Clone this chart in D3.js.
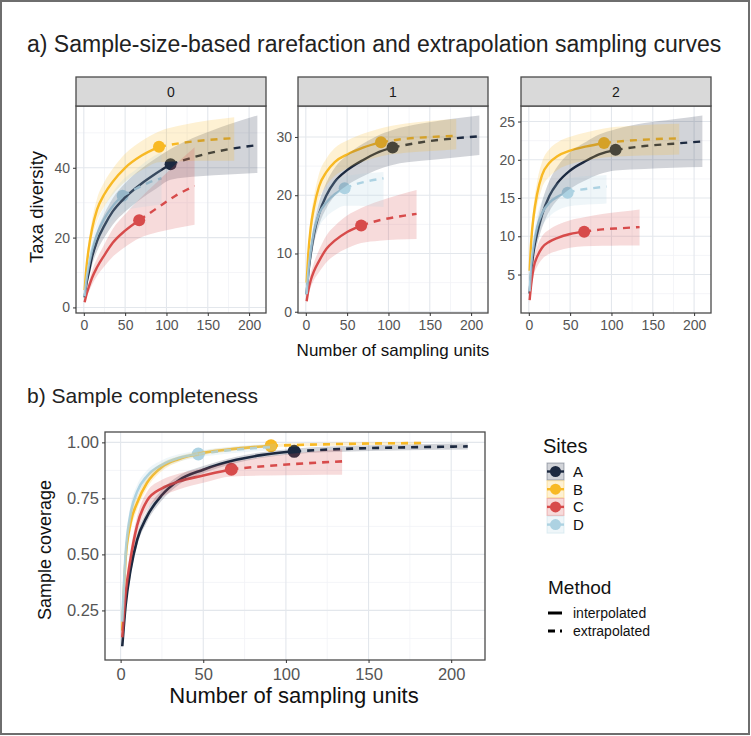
<!DOCTYPE html>
<html>
<head>
<meta charset="utf-8">
<script src="https://d3js.org/d3.v7.min.js"></script>
<style>
  body { margin: 0; background: #fff; }
  text { font-family: 'Liberation Sans', Arial, sans-serif; }
</style>
</head>
<body>
<script>
// ---- data ----
var sites = ["A", "B", "C", "D"];
var siteColors = ["#1c2a40", "#f8b925", "#d84c4b", "#add3e3"];
var sampleSize = [105, 91, 67, 47];   // observed sampling units per site
var orders = ["0", "1", "2"];

// sampling-unit knots for each site (interpolated up to n, extrapolated to 2n)
var xA = [1, 3, 6, 10, 16, 25, 35, 50, 70, 85, 105, 140, 175, 210];
var xB = [1, 3, 6, 10, 16, 25, 35, 50, 70, 91, 121, 152, 182];
var xC = [1, 3, 6, 10, 16, 25, 35, 50, 67, 89, 111, 134];
var xD = [1, 3, 6, 10, 16, 25, 35, 47, 63, 78, 94];

// q = 0
var q0 = {
  A: { est: [2.9, 6.5, 10, 14.5, 19, 23.5, 27.5, 31.5, 35.5, 38, 41, 43.5, 45.3, 46.5],
       lo:  [2.2, 5.1, 8.2, 12.1, 16.1, 20.1, 23.7, 27.4, 31.2, 33.6, 36.6, 37.6, 38.1, 38.5],
       hi:  [3.6, 7.9, 11.8, 16.9, 21.9, 26.9, 31.3, 35.6, 39.8, 42.4, 45.4, 49.3, 52.4, 55] },
  B: { est: [5, 11, 17, 22.5, 28, 32.5, 36, 40, 43.5, 46, 47.2, 48, 48.5],
       lo:  [4.2, 9.3, 14.8, 19.8, 24.8, 29, 32.3, 36, 39.3, 41.6, 41.9, 42, 42],
       hi:  [5.8, 12.7, 19.2, 25.2, 31.2, 36, 39.7, 44, 47.7, 50.4, 52.3, 53.6, 54.5] },
  C: { est: [1.5, 3.5, 5.8, 8.5, 11.5, 15, 18.5, 22, 25, 28.5, 32, 34.8],
       lo:  [1.1, 2.6, 4.4, 6.5, 9, 11.8, 14.5, 17.3, 19.8, 21.5, 22.7, 23.7],
       hi:  [1.9, 4.4, 7.2, 10.5, 14, 18.2, 22.5, 26.7, 31, 36, 41, 45.9] },
  D: { est: [3.2, 7.5, 12, 16.5, 21, 25.5, 29, 32, 34, 35.7, 37],
       lo:  [2.5, 6, 10, 14, 18, 22, 25, 27.5, 28.5, 29, 29.5],
       hi:  [3.9, 9, 14, 19, 24, 29, 33, 36.5, 39.5, 42.3, 44.5] }
};

// q = 1
var q1 = {
  A: { est: [3, 6.5, 10, 13.4, 16.8, 20, 22.3, 24.3, 26.1, 27.2, 28.2, 29.1, 29.7, 30.1],
       lo:  [2.5, 5.6, 8.7, 11.8, 14.9, 17.8, 19.9, 21.7, 23.3, 24.3, 25.2, 25.9, 26.4, 26.9],
       hi:  [3.5, 7.4, 11.3, 15, 18.7, 22.2, 24.7, 26.9, 28.9, 30.1, 31.2, 32.3, 33.1, 33.7] },
  B: { est: [5, 10, 14.5, 18, 21.5, 24, 25.7, 27, 28.2, 29.1, 29.7, 30, 30.2],
       lo:  [4.3, 8.8, 12.9, 16.1, 19.3, 21.7, 23.3, 24.6, 25.8, 26.7, 27.3, 27.6, 27.9],
       hi:  [5.7, 11.2, 16.1, 19.9, 23.7, 26.3, 28.1, 29.4, 30.6, 31.5, 32.3, 32.8, 33.1] },
  C: { est: [1.8, 3.6, 5.4, 7, 8.7, 10.8, 12.2, 13.7, 14.8, 15.7, 16.3, 16.8],
       lo:  [1.4, 2.8, 4.2, 5.5, 6.8, 8.5, 9.7, 10.9, 11.8, 12.2, 12.4, 12.5],
       hi:  [2.2, 4.4, 6.6, 8.5, 10.6, 13.1, 14.7, 16.5, 17.8, 19, 20, 20.9] },
  D: { est: [3, 6.8, 10.5, 14, 16.8, 18.8, 20.2, 21.2, 22, 22.5, 22.9],
       lo:  [2.5, 5.8, 9, 12, 14.5, 16.3, 17.4, 18.2, 18.2, 18.1, 18],
       hi:  [3.5, 7.8, 12, 16, 19.1, 21.3, 22.6, 23.2, 23.6, 23.8, 24] }
};

// q = 2
var q2 = {
  A: { est: [2.5, 5.5, 8.2, 10.3, 12.8, 15.3, 17, 18.6, 19.9, 20.7, 21.3, 21.8, 22.1, 22.4],
       lo:  [2.1, 4.7, 7.1, 8.9, 11.1, 13.3, 14.8, 16.2, 17.4, 18.1, 18.6, 18.8, 18.95, 19.05],
       hi:  [2.9, 6.3, 9.3, 11.7, 14.5, 17.3, 19.2, 21, 22.4, 23.3, 24, 24.8, 25.3, 25.8] },
  B: { est: [5.5, 9.5, 12.8, 15.5, 18, 19.6, 20.5, 21.2, 21.75, 22.2, 22.5, 22.7, 22.8],
       lo:  [4.8, 8.4, 11.4, 13.9, 16.3, 17.8, 18.7, 19.4, 19.9, 20.3, 20.5, 20.6, 20.7],
       hi:  [6.2, 10.6, 14.2, 17.1, 19.7, 21.4, 22.3, 23, 23.6, 24.1, 24.4, 24.6, 24.7] },
  C: { est: [1.65, 3.8, 6, 7.3, 8.5, 9.3, 9.8, 10.3, 10.6, 10.9, 11.05, 11.2],
       lo:  [1.2, 3, 4.9, 6, 7, 7.7, 8.1, 8.5, 8.7, 8.75, 8.8, 8.8],
       hi:  [2.1, 4.6, 7.1, 8.6, 10, 10.9, 11.5, 12.1, 12.5, 12.9, 13.2, 13.5] },
  D: { est: [2.8, 6.2, 9, 11.2, 13, 14.4, 15.2, 15.7, 16.1, 16.3, 16.5],
       lo:  [2.3, 5.3, 7.8, 9.7, 11.3, 12.6, 13.4, 13.9, 14.1, 14.2, 14.3],
       hi:  [3.3, 7.1, 10.2, 12.7, 14.7, 16.2, 17, 17.5, 17.8, 17.9, 18] }
};

// sample coverage
var coverage = {
  A: { est: [0.09, 0.27, 0.43, 0.565, 0.67, 0.765, 0.83, 0.878, 0.922, 0.943, 0.96, 0.972, 0.978, 0.982],
       lo:  [0.075, 0.24, 0.4, 0.54, 0.645, 0.742, 0.81, 0.862, 0.908, 0.93, 0.948, 0.959, 0.965, 0.968],
       hi:  [0.105, 0.3, 0.46, 0.59, 0.695, 0.788, 0.85, 0.894, 0.936, 0.956, 0.972, 0.985, 0.991, 0.996] },
  B: { est: [0.16, 0.48, 0.64, 0.73, 0.82, 0.89, 0.925, 0.953, 0.972, 0.985, 0.991, 0.995, 0.997],
       lo:  [0.13, 0.44, 0.6, 0.7, 0.795, 0.872, 0.912, 0.943, 0.964, 0.978, 0.984, 0.988, 0.99],
       hi:  [0.19, 0.52, 0.68, 0.76, 0.845, 0.908, 0.938, 0.963, 0.98, 0.992, 0.998, 1, 1] },
  C: { est: [0.13, 0.32, 0.48, 0.63, 0.74, 0.795, 0.825, 0.852, 0.88, 0.895, 0.906, 0.915],
       lo:  [0.1, 0.28, 0.44, 0.59, 0.7, 0.757, 0.79, 0.82, 0.848, 0.852, 0.854, 0.855],
       hi:  [0.16, 0.36, 0.52, 0.67, 0.78, 0.833, 0.86, 0.884, 0.912, 0.938, 0.955, 0.97] },
  D: { est: [0.2, 0.5, 0.68, 0.78, 0.85, 0.9, 0.93, 0.948, 0.963, 0.973, 0.98],
       lo:  [0.16, 0.46, 0.64, 0.75, 0.825, 0.88, 0.913, 0.933, 0.948, 0.958, 0.965],
       hi:  [0.24, 0.54, 0.72, 0.81, 0.875, 0.92, 0.947, 0.963, 0.978, 0.988, 0.995] }
};

var xKnots = { A: xA, B: xB, C: xC, D: xD };
var xTicks = [0, 50, 100, 150, 200];
var yTicksQ = [[0, 20, 40], [0, 10, 20, 30], [5, 10, 15, 20, 25]];
var yTicksCov = [0.25, 0.5, 0.75, 1.0];
var methods = ["interpolated", "extrapolated"];

// ---- page ----
var W = 751, H = 736;
var svg = d3.select("body").append("svg")
    .attr("width", W)
    .attr("height", H);

svg.append("rect").attr("width", W).attr("height", H).attr("fill", "#fff");
svg.append("rect")
    .attr("x", 1).attr("y", 1).attr("width", 748).attr("height", 733)
    .attr("fill", "none").attr("stroke", "#6e6e6e").attr("stroke-width", 2);

// build rows for one site from a table
function rowsFor(table, s) {
  var t = table[s];
  return xKnots[s].map(function(x, i) {
    return { x: x, est: t.est[i], lo: t.lo[i], hi: t.hi[i] };
  });
}

// ggplot-like 5% expansion
function expand(ext) {
  var r = ext[1] - ext[0];
  return [ext[0] - r * 0.05, ext[1] + r * 0.05];
}

var xExtent = expand([d3.min(sites, function(s) { return d3.min(xKnots[s]); }),
                      d3.max(sites, function(s) { return d3.max(xKnots[s]); })]);

function drawPanel(g, table, w, h, yTicks, opt) {
  var x = d3.scaleLinear().domain(xExtent).range([0, w]);
  var yExt = [d3.min(sites, function(s) { return d3.min(table[s].lo); }),
              d3.max(sites, function(s) { return d3.max(table[s].hi); })];
  var y = d3.scaleLinear().domain(expand(yExt)).range([h, 0]);

  // grid
  var xMinor = d3.range(25, 225, 50).filter(function(v) { return x(v) > 0 && x(v) < w; });
  var step = yTicks[1] - yTicks[0];
  var yMinor = d3.range(yTicks[0] - step / 2, yTicks[yTicks.length - 1] + step, step)
      .filter(function(v) { return y(v) > 0 && y(v) < h; });

  var grid = g.append("g");
  grid.selectAll(".xmin").data(xMinor).enter().append("line")
      .attr("x1", x).attr("x2", x).attr("y1", 0).attr("y2", h)
      .attr("stroke", "#f1f3f6").attr("stroke-width", 0.8);
  grid.selectAll(".ymin").data(yMinor).enter().append("line")
      .attr("x1", 0).attr("x2", w).attr("y1", y).attr("y2", y)
      .attr("stroke", "#f1f3f6").attr("stroke-width", 0.8);
  grid.selectAll(".xmaj").data(xTicks).enter().append("line")
      .attr("x1", x).attr("x2", x).attr("y1", 0).attr("y2", h)
      .attr("stroke", "#e3e7ec").attr("stroke-width", 1.1);
  grid.selectAll(".ymaj").data(yTicks).enter().append("line")
      .attr("x1", 0).attr("x2", w).attr("y1", y).attr("y2", y)
      .attr("stroke", "#e3e7ec").attr("stroke-width", 1.1);

  var line = d3.line().curve(d3.curveMonotoneX)
      .x(function(d) { return x(d.x); })
      .y(function(d) { return y(d.est); });
  var area = d3.area().curve(d3.curveMonotoneX)
      .x(function(d) { return x(d.x); })
      .y0(function(d) { return y(d.lo); })
      .y1(function(d) { return y(d.hi); });

  // points first, then lines, then ribbons on top (as in ggiNEXT)
  sites.forEach(function(s, i) {
    var obs = rowsFor(table, s).filter(function(d) { return d.x === sampleSize[i]; })[0];
    g.append("circle")
        .attr("cx", x(obs.x)).attr("cy", y(obs.est)).attr("r", opt.r)
        .attr("fill", siteColors[i]);
  });
  sites.forEach(function(s, i) {
    var rows = rowsFor(table, s);
    g.append("path")
        .datum(rows.filter(function(d) { return d.x <= sampleSize[i]; }))
        .attr("d", line).attr("fill", "none")
        .attr("stroke", siteColors[i]).attr("stroke-width", opt.lw);
    g.append("path")
        .datum(rows.filter(function(d) { return d.x >= sampleSize[i]; }))
        .attr("d", line).attr("fill", "none")
        .attr("stroke", siteColors[i]).attr("stroke-width", opt.lw)
        .attr("stroke-dasharray", "7,6");
  });
  sites.forEach(function(s, i) {
    g.append("path")
        .datum(rowsFor(table, s))
        .attr("d", area)
        .attr("fill", siteColors[i]).attr("fill-opacity", 0.2);
  });

  // border
  g.append("rect").attr("width", w).attr("height", h)
      .attr("fill", "none").attr("stroke", "#4a4a4a").attr("stroke-width", 1.3);

  // axes
  var ax = g.append("g").attr("transform", "translate(0," + h + ")")
      .call(d3.axisBottom(x).tickValues(xTicks).tickSize(3).tickPadding(opt.pad));
  var ay = g.append("g")
      .call(d3.axisLeft(y).tickValues(yTicks).tickSize(3).tickPadding(3)
            .tickFormat(opt.fmt || d3.format("d")));
  [ax, ay].forEach(function(a) {
    a.select(".domain").remove();
    a.selectAll(".tick line").attr("stroke", "#333");
    a.selectAll(".tick text").attr("fill", "#555").style("font-size", opt.fs + "px")
        .style("font-family", "'Liberation Sans', Arial, sans-serif");
  });
}

// ---- a) ----
svg.append("text").attr("x", 27).attr("y", 52)
    .style("font-size", "23px").attr("fill", "#222")
    .text("a) Sample-size-based rarefaction and extrapolation sampling curves");

var facetLeft = [76, 298, 521];
var facetW = 190, stripTop = 77, plotTop = 106, plotH = 207;
var qTables = [q0, q1, q2];

orders.forEach(function(q, k) {
  var g = svg.append("g").attr("transform", "translate(" + facetLeft[k] + "," + plotTop + ")");
  drawPanel(g, qTables[k], facetW, plotH, yTicksQ[k], { r: 6, lw: 2.4, fs: 14, pad: 4 });
  svg.append("rect")
      .attr("x", facetLeft[k]).attr("y", stripTop).attr("width", facetW).attr("height", plotTop - stripTop)
      .attr("fill", "#d9d9d9").attr("stroke", "#4a4a4a").attr("stroke-width", 1.3);
  svg.append("text")
      .attr("x", facetLeft[k] + facetW / 2).attr("y", stripTop + 20)
      .attr("text-anchor", "middle").style("font-size", "14px").attr("fill", "#1a1a1a")
      .text(q);
});

svg.append("text")
    .attr("transform", "translate(43,207) rotate(-90)")
    .attr("text-anchor", "middle").style("font-size", "18.5px").attr("fill", "#111")
    .text("Taxa diversity");
svg.append("text")
    .attr("x", 393).attr("y", 356)
    .attr("text-anchor", "middle").style("font-size", "17px").attr("fill", "#111")
    .text("Number of sampling units");

// ---- b) ----
svg.append("text").attr("x", 27).attr("y", 403)
    .style("font-size", "21px").attr("fill", "#222")
    .text("b) Sample completeness");

var gb = svg.append("g").attr("transform", "translate(105,432)");
drawPanel(gb, coverage, 380, 228, yTicksCov,
          { r: 6.5, lw: 2.6, fs: 16.5, pad: 5, fmt: d3.format(".2f") });

svg.append("text")
    .attr("transform", "translate(51,550) rotate(-90)")
    .attr("text-anchor", "middle").style("font-size", "18px").attr("fill", "#111")
    .text("Sample coverage");
svg.append("text")
    .attr("x", 294).attr("y", 703)
    .attr("text-anchor", "middle").style("font-size", "22px").attr("fill", "#111")
    .text("Number of sampling units");

// ---- legends ----
var leg = svg.append("g").attr("transform", "translate(547,0)");
leg.append("text").attr("x", -4).attr("y", 453)
    .style("font-size", "20px").attr("fill", "#111").text("Sites");

sites.forEach(function(s, i) {
  var yy = 463 + i * 17.7;
  leg.append("line").attr("x1", 0).attr("x2", 17).attr("y1", yy + 8.5).attr("y2", yy + 8.5)
      .attr("stroke", siteColors[i]).attr("stroke-width", 2.4);
  leg.append("circle").attr("cx", 8.5).attr("cy", yy + 8.5).attr("r", 5.5)
      .attr("fill", siteColors[i]);
  leg.append("rect").attr("x", 0).attr("y", yy).attr("width", 17).attr("height", 17)
      .attr("fill", siteColors[i]).attr("fill-opacity", 0.2)
      .attr("stroke", siteColors[i]).attr("stroke-opacity", 0.35).attr("stroke-width", 1);
  leg.append("text").attr("x", 26).attr("y", yy + 14)
      .style("font-size", "15px").attr("fill", "#111").text(s);
});

leg.append("text").attr("x", 1).attr("y", 594)
    .style("font-size", "19px").attr("fill", "#111").text("Method");

methods.forEach(function(m, i) {
  var yy = 613 + i * 18;
  leg.append("line").attr("x1", 1).attr("x2", 15).attr("y1", yy).attr("y2", yy)
      .attr("stroke", "#000").attr("stroke-width", 3)
      .attr("stroke-dasharray", i === 0 ? null : "7,5,2,20");
  leg.append("text").attr("x", 26).attr("y", yy + 5)
      .style("font-size", "14px").attr("fill", "#111").text(m);
});
</script>
</body>
</html>
